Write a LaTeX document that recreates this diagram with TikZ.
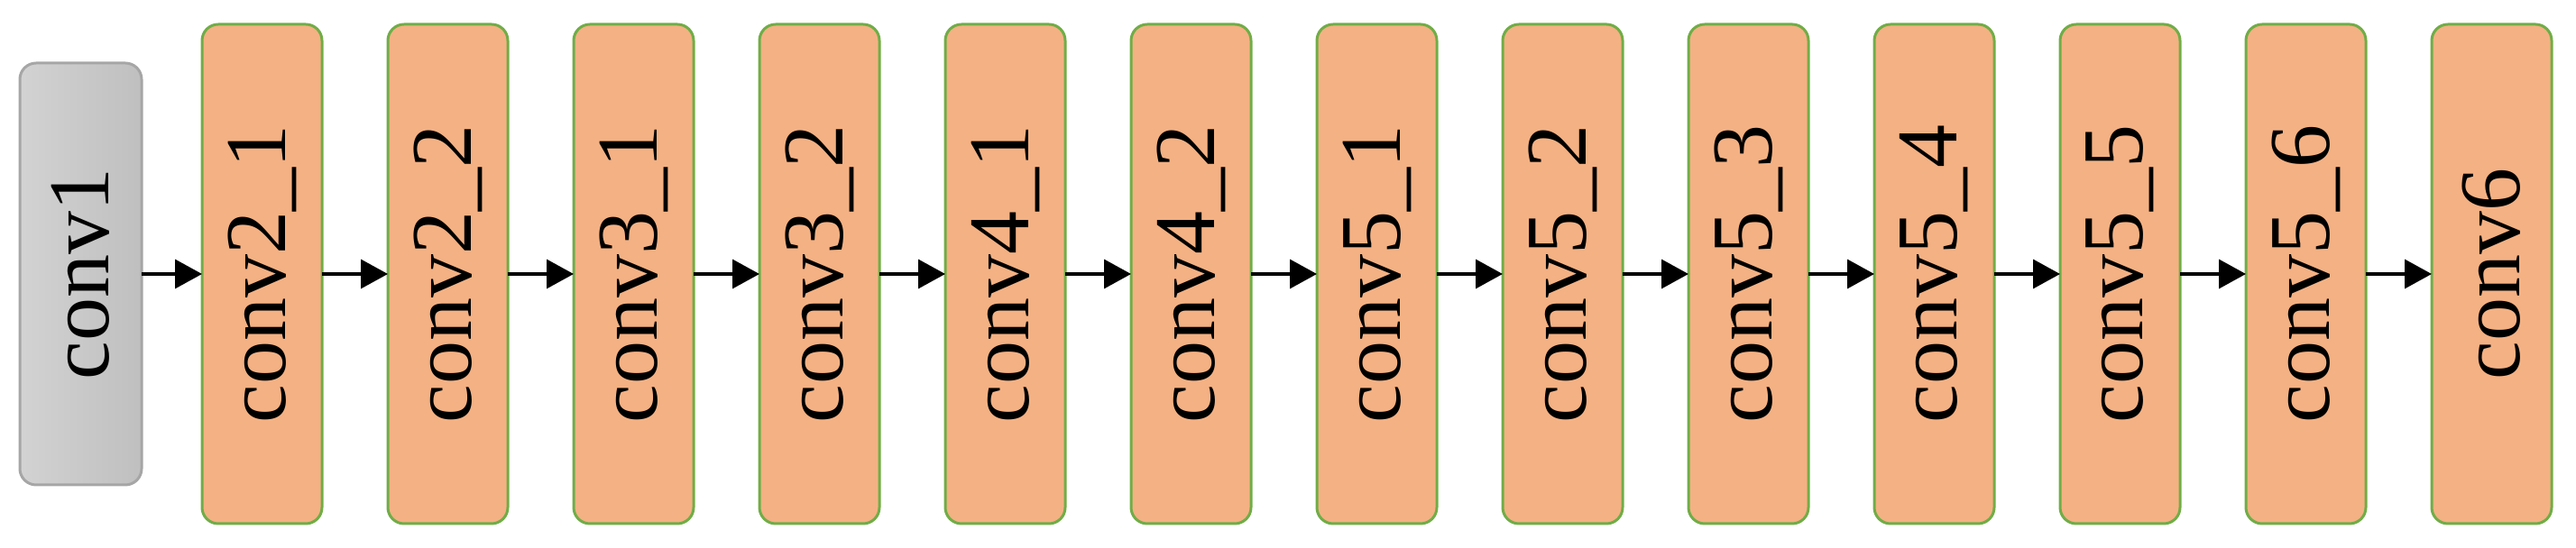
\documentclass[tikz,border=0pt]{standalone}
\usepackage{fontspec}
\setmainfont{Liberation Serif}
\usetikzlibrary{arrows.meta}
\usetikzlibrary{positioning}

\definecolor{layerfill}{HTML}{F4B183}
\definecolor{layerline}{HTML}{70AD47}
\tikzset{
    layer/.style={draw=layerline, line width=1.5pt, fill=layerfill, rounded corners=9pt,
        minimum width=66.5pt, minimum height=277pt, inner sep=0pt, outer sep=0pt},
    inlayer/.style={draw=gray!70, line width=1.5pt, left color=gray!35, right color=gray!50,
        rounded corners=9pt, minimum width=67.5pt, minimum height=234pt, inner sep=0pt, outer sep=0pt},
    label/.style={rotate=90, font=\fontsize{48}{57}\selectfont},
    flow/.style={line width=1.8pt, arrows={-Triangle[length=15pt, width=16pt]}}
}

\begin{document}
\begin{tikzpicture}
                \useasboundingbox (0,0) rectangle (1428pt,304pt);

                \node[inlayer] (conv1) at (44.75pt,152pt) {};
                \node[label] at (conv1) {conv1};

                \node[layer] (conv21) at (145.25pt,152pt) {};
                \node[label] at (conv21) {conv2\_1};
                \node[layer, right=36.5pt of conv21] (conv22) {};
                \node[label] at (conv22) {conv2\_2};
                \node[layer, right=36.5pt of conv22] (conv31) {};
                \node[label] at (conv31) {conv3\_1};
                \node[layer, right=36.5pt of conv31] (conv32) {};
                \node[label] at (conv32) {conv3\_2};
                \node[layer, right=36.5pt of conv32] (conv41) {};
                \node[label] at (conv41) {conv4\_1};
                \node[layer, right=36.5pt of conv41] (conv42) {};
                \node[label] at (conv42) {conv4\_2};
                \node[layer, right=36.5pt of conv42] (conv51) {};
                \node[label] at (conv51) {conv5\_1};
                \node[layer, right=36.5pt of conv51] (conv52) {};
                \node[label] at (conv52) {conv5\_2};
                \node[layer, right=36.5pt of conv52] (conv53) {};
                \node[label] at (conv53) {conv5\_3};
                \node[layer, right=36.5pt of conv53] (conv54) {};
                \node[label] at (conv54) {conv5\_4};
                \node[layer, right=36.5pt of conv54] (conv55) {};
                \node[label] at (conv55) {conv5\_5};
                \node[layer, right=36.5pt of conv55] (conv56) {};
                \node[label] at (conv56) {conv5\_6};
                \node[layer, right=36.5pt of conv56] (conv6) {};
                \node[label] at (conv6) {conv6};

                \foreach \a/\b in {conv1/conv21, conv21/conv22, conv22/conv31, conv31/conv32,
                    conv32/conv41, conv41/conv42, conv42/conv51, conv51/conv52, conv52/conv53,
                    conv53/conv54, conv54/conv55, conv55/conv56, conv56/conv6}
                    \draw[flow] (\a.east) -- (\b.west);
\end{tikzpicture}
\end{document}
